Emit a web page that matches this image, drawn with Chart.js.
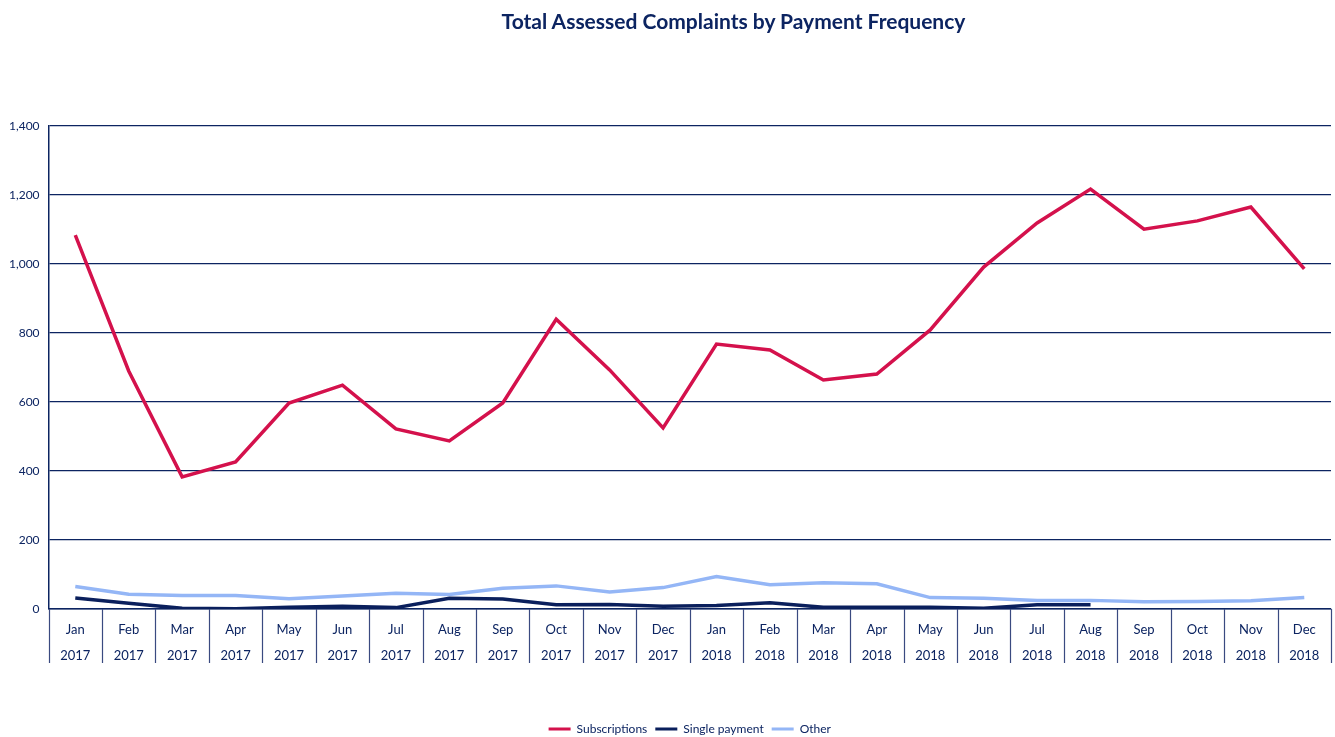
<!DOCTYPE html>
<html>
<head>
<meta charset="utf-8">
<script src="https://cdn.jsdelivr.net/npm/chart.js@4.4.0/dist/chart.umd.min.js"></script>
<style>
  html, body { margin: 0; padding: 0; background: #fff; }
  #wrap { position: relative; width: 1335px; height: 737px; }
  #title { position: absolute; left: 0; top: 8px; width: 1335px; padding-left: 132px; box-sizing: border-box;
           text-align: center; font-family: Lato, sans-serif; font-weight: bold; font-size: 21px; color: #0c2461; }
</style>
</head>
<body>
<div id="wrap">
  <div id="title">Total Assessed Complaints by Payment Frequency</div>
  <canvas id="myChart"></canvas>
</div>
<script>
var months = ['Jan','Feb','Mar','Apr','May','Jun','Jul','Aug','Sep','Oct','Nov','Dec',
              'Jan','Feb','Mar','Apr','May','Jun','Jul','Aug','Sep','Oct','Nov','Dec'];
var years = ['2017','2017','2017','2017','2017','2017','2017','2017','2017','2017','2017','2017',
             '2018','2018','2018','2018','2018','2018','2018','2018','2018','2018','2018','2018'];
var subscriptions = [1084, 690, 383, 426, 597, 649, 522, 487, 597, 840, 693, 525,
                     768, 751, 664, 681, 809, 991, 1119, 1217, 1101, 1125, 1165, 986];
var singlePayment = [32, 17, 2, 1, 5, 8, 4, 31, 29, 12, 13, 8,
                     10, 18, 5, 5, 5, 2, 12, 12, null, null, null, null];
var other = [65, 43, 39, 39, 30, 38, 46, 42, 60, 67, 49, 62,
             94, 70, 76, 73, 33, 31, 25, 25, 21, 22, 24, 33];

var navy = '#0c2461';
var labels = months.map(function (m, i) { return [m, years[i]]; });

// category separators below the x axis
var separators = {
    id: 'separators',
    afterDraw: function (chart) {
        var x = chart.scales.x;
        var c = chart.ctx;
        var top = chart.chartArea.bottom;
        var half = (x.getPixelForTick(1) - x.getPixelForTick(0)) / 2;
        c.save();
        c.strokeStyle = '#3a4a80';
        c.lineWidth = 1.2;
        c.beginPath();
        for (var i = 0; i <= months.length; i++) {
            var px = Math.round(x.getPixelForTick(Math.min(i, months.length - 1)) + (i === months.length ? half : -half)) + 0.5;
            c.moveTo(px, top);
            c.lineTo(px, top + 54);
        }
        c.stroke();
        c.restore();
    }
};

let myChart = document.getElementById("myChart").getContext("2d");
let lineChart = new Chart(myChart, {
    type: 'line',
    data: {
        labels: labels,
        datasets: [{
            label: 'Subscriptions',
            data: subscriptions,
            borderColor: '#d4114c',
            backgroundColor: '#d4114c',
            borderWidth: 3.5,
            pointRadius: 0,
            tension: 0
        }, {
            label: 'Single payment',
            data: singlePayment,
            borderColor: '#0a1f5c',
            backgroundColor: '#0a1f5c',
            borderWidth: 3.5,
            pointRadius: 0,
            tension: 0
        }, {
            label: 'Other',
            data: other,
            borderColor: '#94b6f6',
            backgroundColor: '#94b6f6',
            borderWidth: 3.5,
            pointRadius: 0,
            tension: 0
        }]
    },
    plugins: [separators],
    options: {
        responsive: true,
        maintainAspectRatio: false,
        animation: false,
        layout: { padding: { left: 0, right: 4, top: 126, bottom: -8 } },
        plugins: {
            legend: {
                display: true,
                position: 'bottom',
                fullSize: false,
                labels: {
                    color: navy,
                    font: { family: 'Lato', size: 12 },
                    boxWidth: 22,
                    boxHeight: 3,
                    padding: 8,
                    generateLabels: function (chart) {
                        var items = Chart.defaults.plugins.legend.labels.generateLabels(chart);
                        items.forEach(function (it) { it.lineWidth = 0; });
                        return items;
                    }
                }
            },
            tooltip: { enabled: false }
        },
        scales: {
            x: {
                offset: true,
                grid: {
                    offset: true,
                    drawTicks: false,
                    color: function (ctx) { return ctx.index === 24 ? navy : 'rgba(0,0,0,0)'; },
                    lineWidth: 1.2
                },
                border: { color: navy, width: 1.5 },
                ticks: {
                    color: navy,
                    font: { family: 'Lato', size: 13, lineHeight: 2.05 },
                    maxRotation: 0,
                    autoSkip: false,
                    padding: 7
                },
                afterFit: function (scale) { scale.height = 106; }
            },
            y: {
                min: 0,
                max: 1400,
                ticks: {
                    stepSize: 200,
                    color: navy,
                    font: { family: 'Lato', size: 12 },
                    padding: 9
                },
                grid: {
                    color: navy,
                    lineWidth: 1.2,
                    drawTicks: false
                },
                border: { color: navy, width: 1.5 }
            }
        }
    }
});
</script>
</body>
</html>
